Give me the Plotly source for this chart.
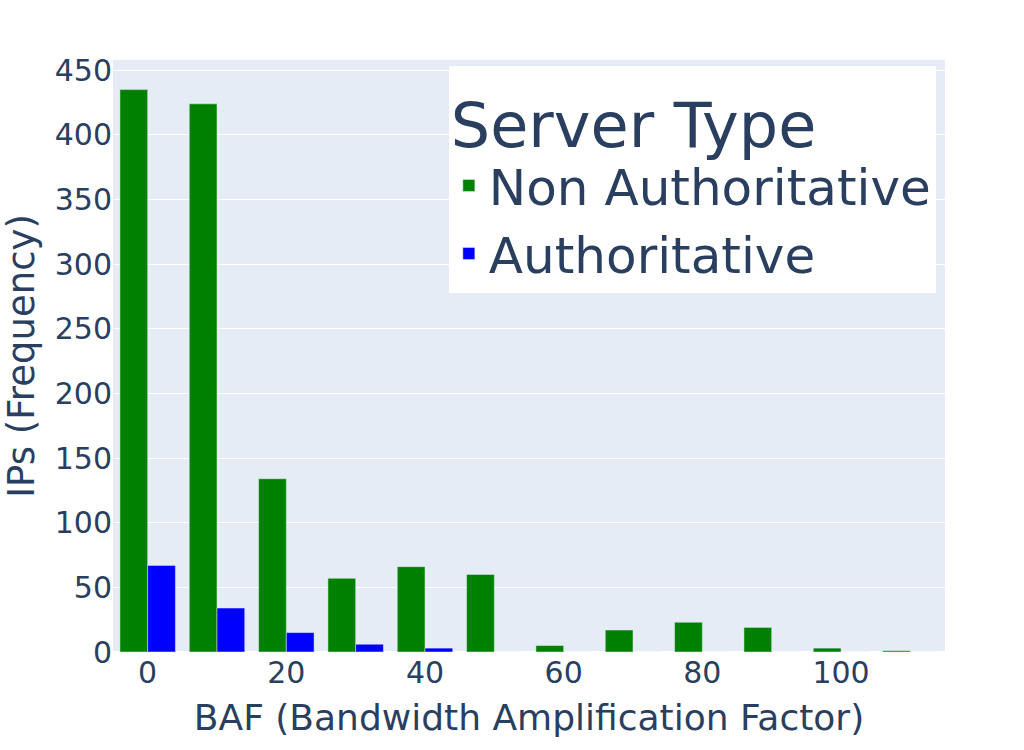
import plotly.graph_objects as go

baf = [0, 10, 20, 30, 40, 50, 60, 70, 80, 90, 100, 110]
non_auth = [435, 424, 134, 57, 66, 60, 5, 17, 23, 19, 3, 1]
auth = [67, 34, 15, 6, 3, 0, 0, 0, 0, 0, 0, 0]

fig = go.Figure()
fig.add_trace(go.Bar(x=baf, y=non_auth, name="Non Authoritative", marker_color="green"))
fig.add_trace(go.Bar(x=baf, y=auth, name="Authoritative", marker_color="blue"))

fig.update_layout(
    width=1024, height=750,
    barmode="group", bargap=0.2,
    template="plotly",
    font=dict(family="DejaVu Sans", size=30, color="#2a3f5f"),
    margin=dict(l=113, r=79, t=60, b=98),
    legend=dict(
        title=dict(text="Server Type", font=dict(size=62)),
        font=dict(size=50),
        x=0.989, y=0.99, xanchor="right", yanchor="top",
        bgcolor="white",
    ),
    xaxis=dict(title=dict(text="BAF (Bandwidth Amplification Factor)", font=dict(size=36)),
               tickfont=dict(size=30)),
    yaxis=dict(title=dict(text="IPs (Frequency)", font=dict(size=37)),
               tickfont=dict(size=30)),
)

fig.write_html("out.html")
